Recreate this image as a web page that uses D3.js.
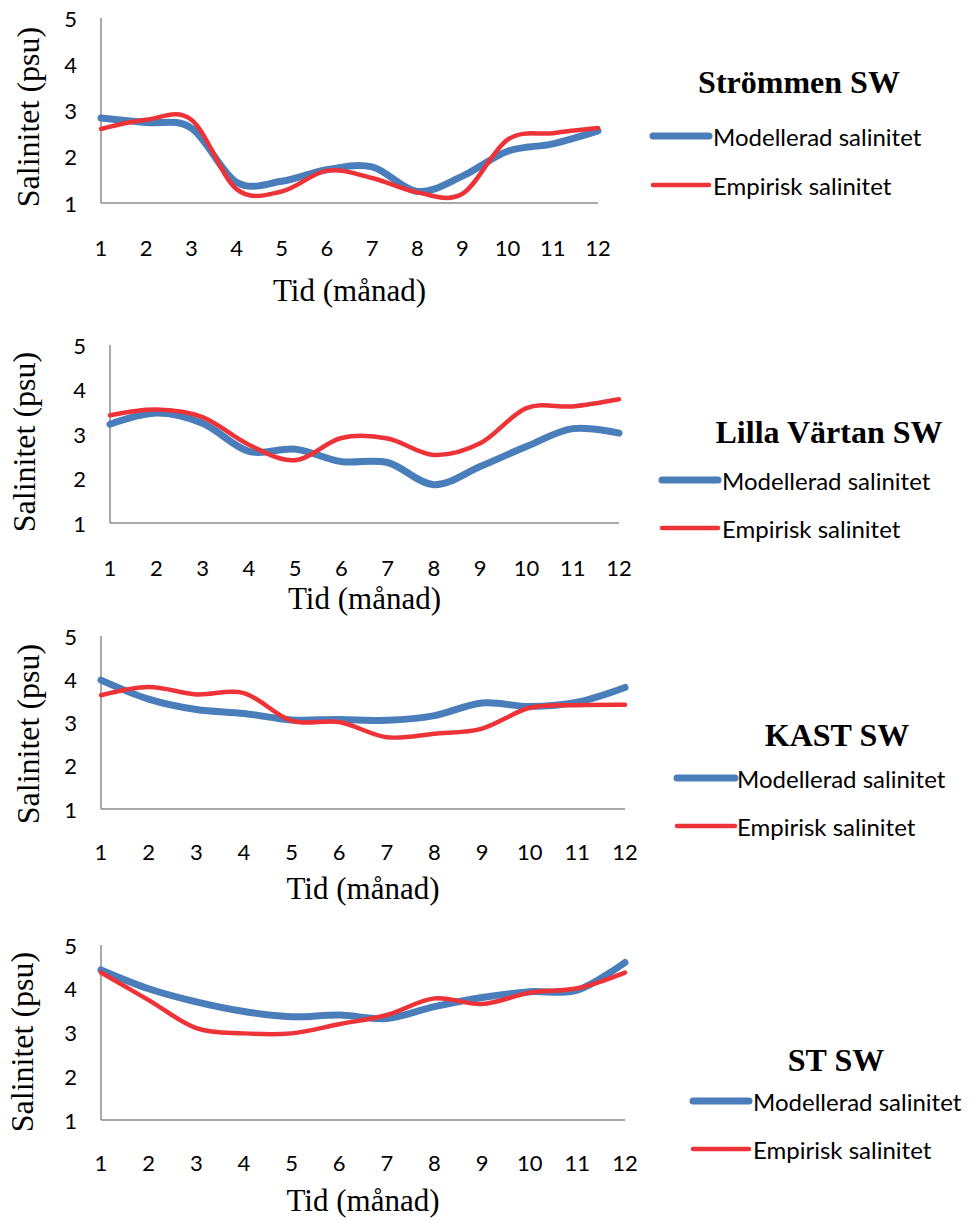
<!DOCTYPE html>
<html>
<head>
<meta charset="utf-8">
<script src="https://cdn.jsdelivr.net/npm/d3@7"></script>
<style>
  body { margin: 0; background: #fff; }
  svg { display: block; }
</style>
</head>
<body>
<svg id="chart" width="974" height="1220"></svg>
<script>
const months = [1, 2, 3, 4, 5, 6, 7, 8, 9, 10, 11, 12];
const yTicks = [1, 2, 3, 4, 5];
const stations = ["Strömmen SW", "Lilla Värtan SW", "KAST SW", "ST SW"];
const seriesNames = ["Modellerad salinitet", "Empirisk salinitet"];

// modellerad / empirisk salinitet per station (psu)
const modStrommen = [2.84, 2.74, 2.62, 1.45, 1.47, 1.72, 1.78, 1.25, 1.58, 2.12, 2.28, 2.56];
const empStrommen = [2.60, 2.80, 2.80, 1.30, 1.25, 1.70, 1.54, 1.23, 1.20, 2.37, 2.51, 2.62];
const modLilla = [3.22, 3.47, 3.24, 2.61, 2.66, 2.38, 2.36, 1.86, 2.27, 2.72, 3.12, 3.02];
const empLilla = [3.42, 3.55, 3.38, 2.76, 2.41, 2.91, 2.90, 2.53, 2.79, 3.58, 3.62, 3.78];
const modKast = [3.98, 3.54, 3.30, 3.21, 3.06, 3.07, 3.05, 3.16, 3.45, 3.37, 3.47, 3.81];
const empKast = [3.63, 3.82, 3.65, 3.68, 3.04, 3.01, 2.66, 2.74, 2.86, 3.34, 3.40, 3.41];
const modSt = [4.43, 4.00, 3.70, 3.48, 3.36, 3.40, 3.32, 3.59, 3.80, 3.93, 3.97, 4.60];
const empSt = [4.37, 3.74, 3.10, 2.98, 2.98, 3.19, 3.40, 3.78, 3.65, 3.91, 4.01, 4.37];

const modelled = [modStrommen, modLilla, modKast, modSt];
const empirical = [empStrommen, empLilla, empKast, empSt];

// layout of the four panels (pixels)
const panels = [
  {x0: 101, x1: 598, top: 18,  bot: 203,  tickY: 247,  titleY: 290,  yTitleX: 28, yTitleY: 117,
   legX: 799, legY: 93,   l0: 653, l1: 709, blueY: 136,  redY: 185,  textX: 713},
  {x0: 110, x1: 619, top: 345, bot: 523,  tickY: 567,  titleY: 598,  yTitleX: 24, yTitleY: 442,
   legX: 829, legY: 443,  l0: 662, l1: 718, blueY: 480,  redY: 528,  textX: 722},
  {x0: 101, x1: 625, top: 636, bot: 809,  tickY: 851,  titleY: 888,  yTitleX: 28, yTitleY: 734,
   legX: 837, legY: 746,  l0: 677, l1: 735, blueY: 778,  redY: 826,  textX: 737},
  {x0: 101, x1: 625, top: 945, bot: 1120, tickY: 1162, titleY: 1200, yTitleX: 22, yTitleY: 1042,
   legX: 836, legY: 1071, l0: 693, l1: 749, blueY: 1101, redY: 1149, textX: 753}
];

const blue = "#4a7ebb",
      red = "#ee3338",
      axisGrey = "#8c8c8c",
      sans = "Lato, 'Open Sans', sans-serif",
      serif = "'Liberation Serif', 'Times New Roman', serif";

const svg = d3.select("#chart");

panels.forEach((p, k) => {
  const g = svg.append("g");

  const x = d3.scaleLinear().domain([1, 12]).range([p.x0, p.x1]);
  const y = d3.scaleLinear().domain([1, 5]).range([p.bot, p.top]);

  // axis lines
  g.append("line")
   .attr("x1", p.x0).attr("x2", p.x0)
   .attr("y1", y(5)).attr("y2", y(1))
   .attr("stroke", axisGrey).attr("stroke-width", 1.5);
  g.append("line")
   .attr("x1", p.x0).attr("x2", p.x1)
   .attr("y1", y(1)).attr("y2", y(1))
   .attr("stroke", axisGrey).attr("stroke-width", 1.5);

  // tick labels
  g.selectAll(".ytick")
   .data(yTicks)
   .join("text")
   .attr("x", p.x0 - 24)
   .attr("y", d => y(d))
   .attr("text-anchor", "end")
   .attr("dominant-baseline", "central")
   .style("font-family", sans)
   .style("font-size", "22px")
   .text(d => d);

  g.selectAll(".xtick")
   .data(months)
   .join("text")
   .attr("x", d => x(d))
   .attr("y", p.tickY)
   .attr("text-anchor", "middle")
   .attr("dominant-baseline", "central")
   .style("font-family", sans)
   .style("font-size", "22px")
   .text(d => d);

  // axis titles
  g.append("text")
   .attr("x", (p.x0 + p.x1) / 2)
   .attr("y", p.titleY)
   .attr("text-anchor", "middle")
   .attr("dominant-baseline", "central")
   .style("font-family", serif)
   .style("font-size", "31px")
   .text("Tid (månad)");

  g.append("text")
   .attr("transform", `translate(${p.yTitleX},${p.yTitleY}) rotate(-90)`)
   .attr("text-anchor", "middle")
   .attr("dominant-baseline", "central")
   .style("font-family", serif)
   .style("font-size", "32px")
   .text("Salinitet (psu)");

  // smoothed lines
  const line = d3.line()
                 .x((d, i) => x(months[i]))
                 .y(d => y(d))
                 .curve(d3.curveCardinal.tension(0));

  g.append("path")
   .datum(modelled[k])
   .attr("d", line)
   .attr("fill", "none")
   .attr("stroke", blue)
   .attr("stroke-width", 7)
   .attr("stroke-linecap", "round");

  g.append("path")
   .datum(empirical[k])
   .attr("d", line)
   .attr("fill", "none")
   .attr("stroke", red)
   .attr("stroke-width", 4.5)
   .attr("stroke-linecap", "round");

  // legend
  g.append("text")
   .attr("x", p.legX)
   .attr("y", p.legY)
   .attr("text-anchor", "middle")
   .style("font-family", serif)
   .style("font-weight", "bold")
   .style("font-size", "32px")
   .text(stations[k]);

  [[p.blueY, blue, 7], [p.redY, red, 4.5]].forEach(([ly, col, w], j) => {
    g.append("line")
     .attr("x1", p.l0).attr("x2", p.l1)
     .attr("y1", ly).attr("y2", ly)
     .attr("stroke", col).attr("stroke-width", w)
     .attr("stroke-linecap", "round");
    g.append("text")
     .attr("x", p.textX)
     .attr("y", ly)
     .attr("dominant-baseline", "central")
     .style("font-family", sans)
     .style("font-size", "24px")
     .text(seriesNames[j]);
  });
});
</script>
</body>
</html>
